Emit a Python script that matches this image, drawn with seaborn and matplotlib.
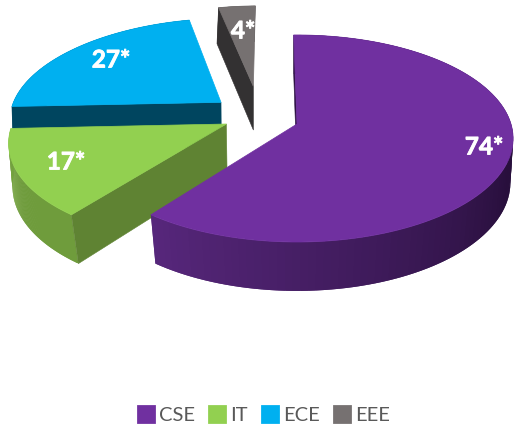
import numpy as np
import matplotlib
matplotlib.use('Agg')
import matplotlib.pyplot as plt
import matplotlib.patheffects as pe
from matplotlib.patches import Patch
import seaborn as sns

sns.set_theme(style='white')
plt.rcParams['font.family'] = ['Lato', 'DejaVu Sans']

# Values
departments = ['CSE', 'IT', 'ECE', 'EEE']
students = [74, 17, 27, 4]
value_labels = ['74*', '17*', '27*', '4*']

top_colors = ['#7030A0', '#92D050', '#00B0F0', '#767171']
cut_colors = ['#2E1245', '#5F8333', '#00455F', '#333132']
wall_left = ['#57277C', '#7DAE45', '#00455F', '#333132']
wall_right = ['#280F3C', '#6F9C3C', '#00455F', '#333132']

# explode offsets in the plane of the pie, one per slice
explode_x = [0.0, -0.33, -0.366, -0.215]
explode_y = [0.0, 0.0, 0.22, 0.39]
label_xy = [(484, 147), (66, 162), (111, 60), (243, 31)]


def project(x, y, bottom=False):
    # perspective from the pie plane to pixels, the bottom plane sits lower
    if bottom:
        w = 1 + 0.115 * y
        return 297 + 212 * x / w, 170 - 107 * y / w
    w = 1 + 0.14 * y
    return 297 + 214 * x / w, 124 - 101.5 * y / w


def rim(t, dx, dy, bottom=False):
    return project(np.sin(t) + dx, np.cos(t) + dy, bottom)


fig, ax = plt.subplots(figsize=(5.15, 4.3), dpi=100)
ax.set_position([0, 0, 1, 1])
ax.set_xlim(0, 515)
ax.set_ylim(430, 0)
ax.axis('off')

edges = np.radians(np.concatenate([[0], np.cumsum(students)]) / np.sum(students) * 360 - 1.0)

# painter order, back slice first and the big slice last
for i in [3, 2, 1, 0]:
    dx, dy = explode_x[i], explode_y[i]
    t = np.linspace(edges[i], edges[i + 1], 121)

    # outer wall as strips for the horizontal shading, each one runs on under the next
    pal = sns.blend_palette([wall_right[i]] * 2 + [wall_left[i]], len(t) - 1)
    for j in range(len(t) - 1):
        x0, y0 = rim(t[j:j + 3], dx, dy)
        x1, y1 = rim(t[j:j + 3], dx, dy, bottom=True)
        ax.fill(np.r_[x0, x1[::-1]], np.r_[y0, y1[::-1]], color=pal[j], lw=0,
                zorder=i * -10 + 1 + (len(t) - j) * 1e-3)

    # cut face at the start of the slice, the one turned to the viewer
    ax_, ay_ = project(dx, dy)
    bx_, by_ = project(dx, dy, bottom=True)
    rx_, ry_ = rim(edges[i], dx, dy)
    sx_, sy_ = rim(edges[i], dx, dy, bottom=True)
    ax.fill([ax_, rx_, sx_, bx_], [ay_, ry_, sy_, by_], color=cut_colors[i], lw=0.4, zorder=i * -10 + 2)

    # top face
    tx, ty = rim(t, dx, dy)
    ax.fill(np.r_[ax_, tx], np.r_[ay_, ty], color=top_colors[i], lw=0.5, zorder=i * -10 + 3)

    ax.text(label_xy[i][0], label_xy[i][1], value_labels[i], color='white', fontsize=17.5,
            fontweight='bold', ha='center', va='center', zorder=10,
            path_effects=[pe.withStroke(linewidth=0.6, foreground='white')])

handles = [Patch(facecolor=c, edgecolor=c, linewidth=2, joinstyle='round', label=d)
           for c, d in zip(top_colors, departments)]
ax.legend(handles=handles, ncol=4, loc='center', bbox_to_anchor=(264 / 515, 1 - 415 / 430), frameon=False,
          fontsize=14.5, labelcolor='#595959', handlelength=0.8, handleheight=0.8,
          handletextpad=0.25, columnspacing=0.7, borderpad=0, borderaxespad=0)

fig.savefig('out.png', dpi=100, facecolor='white')
